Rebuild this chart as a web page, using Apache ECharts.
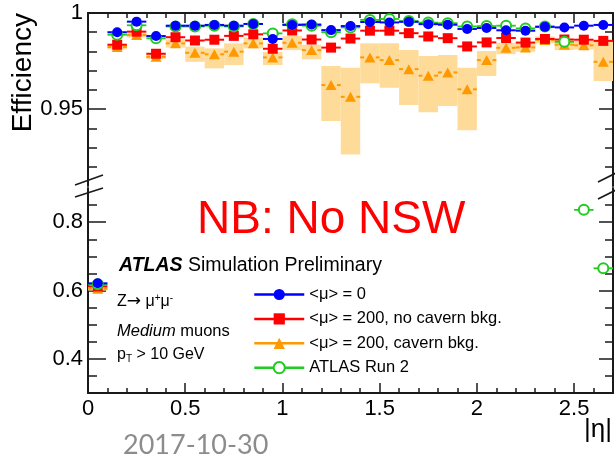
<!DOCTYPE html>
<html>
<head>
<meta charset="utf-8">
<script src="https://cdn.jsdelivr.net/npm/echarts@6/dist/echarts.min.js"></script>
<style>
  html, body { margin: 0; padding: 0; background: #fff; }
  #chart { width: 615px; height: 459px; }
</style>
</head>
<body>
<div id="chart"></div>
<script>
// |eta| bin centres (bin width 0.1)
const etaBins = [0.05, 0.15, 0.25, 0.35, 0.45, 0.55, 0.65, 0.75, 0.85, 0.95,
                 1.05, 1.15, 1.25, 1.35, 1.45, 1.55, 1.65, 1.75, 1.85, 1.95,
                 2.05, 2.15, 2.25, 2.35, 2.45, 2.55, 2.65];
const binHalfWidth = 0.05;

// <mu> = 0
const effMu0 = [0.621, 0.990, 0.9955, 0.988, 0.9934, 0.9934, 0.9938, 0.9934, 0.9943, 0.9865,
                0.9938, 0.9940, 0.9911, 0.9932, 0.9953, 0.9951, 0.9954, 0.9942, 0.9939, 0.9917,
                0.9922, 0.9910, 0.9908, 0.9928, 0.9925, 0.9934, 0.9938];
// <mu> = 200, no cavern background
const effMu200 = [0.612, 0.9835, 0.9903, 0.9788, 0.9874, 0.9857, 0.9861, 0.9881, 0.9889, 0.9814,
                  0.9909, 0.9862, 0.9820, 0.9867, 0.9908, 0.9908, 0.9895, 0.9878, 0.9869, 0.9826,
                  0.9847, 0.9870, 0.9846, 0.9865, 0.9862, 0.9861, 0.9855];
// <mu> = 200, cavern background (central value and systematic band)
const effMu200Cavern = [0.605, 0.9823, 0.9885, 0.9772, 0.9842, 0.9793, 0.9785, 0.9799, 0.9842, 0.9769,
                        0.9845, 0.9807, 0.9625, 0.9564, 0.9769, 0.9755, 0.9708, 0.9674, 0.9691, 0.9603,
                        0.9755, 0.9819, 0.9821, 0.9860, 0.9835, 0.9832, 0.9746];
const cavernBandLow = [0.600, 0.9810, 0.9872, 0.9760, 0.9820, 0.9746, 0.9712, 0.9729, 0.9816, 0.9729,
                       0.9807, 0.9759, 0.9438, 0.9264, 0.9634, 0.9611, 0.9521, 0.9484, 0.9516, 0.9390,
                       0.9672, 0.9786, 0.9798, 0.9842, 0.9807, 0.9810, 0.9646];
const cavernBandHigh = [0.611, 0.9838, 0.9898, 0.9785, 0.9863, 0.9825, 0.9816, 0.9842, 0.9873, 0.9798,
                        0.9880, 0.9835, 0.9724, 0.9715, 0.9842, 0.9842, 0.9807, 0.9776, 0.9781, 0.9715,
                        0.9802, 0.9845, 0.9839, 0.9878, 0.9863, 0.9855, 0.9854];
// ATLAS Run 2
const effRun2 = [0.618, 0.9887, 0.9936, 0.9868, 0.9930, 0.9930, 0.9934, 0.9930, 0.9943, 0.9894,
                 0.9941, 0.9934, 0.9900, 0.9925, 0.9964, 0.9969, 0.9958, 0.9950, 0.9947, 0.9930,
                 0.9932, 0.9934, 0.9920, 0.9930, 0.9850, 0.836, 0.665];

const seriesNames = ['<\u03bc> = 0', '<\u03bc> = 200, no cavern bkg.', '<\u03bc> = 200, cavern bkg.', 'ATLAS Run 2'];

// axis ticks and labels
const xTickLabels = [0, 0.5, 1, 1.5, 2, 2.5];
const xMinorTicks = [0.1, 0.2, 0.3, 0.4, 0.6, 0.7, 0.8, 0.9, 1.1, 1.2, 1.3, 1.4, 1.6, 1.7, 1.8, 1.9,
                     2.1, 2.2, 2.3, 2.4, 2.6];
const upperYLabels = [0.95, 1];
const upperYMinorTicks = [0.92, 0.93, 0.94, 0.96, 0.97, 0.98, 0.99];
const lowerYLabels = [0.4, 0.6, 0.8];
const lowerYMinorTicks = [0.35, 0.45, 0.5, 0.55, 0.65, 0.7, 0.75, 0.85];

const X_RANGE = [0, 2.7];
const UPPER_RANGE = [0.91, 1.0];
const LOWER_RANGE = [0.3, 0.9];

const FONT = "'Liberation Sans', Arial, sans-serif";
const AXIS_COLOR = '#1a1a1a';
const C_BLUE = '#0000ff', C_RED = '#ff0000', C_ORANGE = '#ff9900', C_GREEN = '#1fcc1f', C_BAND = '#ffdb99';

function axis(o) {
  return Object.assign({
    type: 'value',
    splitLine: { show: false },
    axisLabel: { show: false },
    axisTick: { show: false },
    axisLine: { show: false, onZero: false },
    axisPointer: { show: false }
  }, o);
}
const frameLine = { show: true, onZero: false, lineStyle: { color: AXIS_COLOR, width: 2 } };
function ticks(values, length) {
  return { show: true, inside: true, length, customValues: values, lineStyle: { color: AXIS_COLOR, width: 1.5 } };
}
function labels(values) {
  return { show: true, customValues: values, color: '#000', fontSize: 22, fontFamily: FONT, margin: 5 };
}

const xAxes = [
  // upper panel
  axis({ gridIndex: 0, min: X_RANGE[0], max: X_RANGE[1], position: 'bottom' }),
  axis({ gridIndex: 0, min: X_RANGE[0], max: X_RANGE[1], position: 'top', axisLine: frameLine, axisTick: ticks(xMinorTicks, 5) }),
  axis({ gridIndex: 0, min: X_RANGE[0], max: X_RANGE[1], position: 'top', axisTick: ticks(xTickLabels, 10) }),
  // lower panel
  axis({ gridIndex: 1, min: X_RANGE[0], max: X_RANGE[1], position: 'bottom', axisLine: frameLine,
         axisTick: ticks(xMinorTicks, 5), axisLabel: labels(xTickLabels) }),
  axis({ gridIndex: 1, min: X_RANGE[0], max: X_RANGE[1], position: 'bottom', axisTick: ticks(xTickLabels, 10) })
];
const yAxes = [
  // upper panel
  axis({ gridIndex: 0, min: UPPER_RANGE[0], max: UPPER_RANGE[1], position: 'left', axisLine: frameLine,
         axisTick: ticks(upperYMinorTicks, 9), axisLabel: labels(upperYLabels) }),
  axis({ gridIndex: 0, min: UPPER_RANGE[0], max: UPPER_RANGE[1], position: 'left', axisTick: ticks(upperYLabels, 18) }),
  axis({ gridIndex: 0, min: UPPER_RANGE[0], max: UPPER_RANGE[1], position: 'right', axisLine: frameLine, axisTick: ticks(upperYMinorTicks, 8) }),
  axis({ gridIndex: 0, min: UPPER_RANGE[0], max: UPPER_RANGE[1], position: 'right', axisTick: ticks(upperYLabels, 14) }),
  // lower panel
  axis({ gridIndex: 1, min: LOWER_RANGE[0], max: LOWER_RANGE[1], position: 'left', axisLine: frameLine,
         axisTick: ticks(lowerYMinorTicks, 9), axisLabel: labels(lowerYLabels) }),
  axis({ gridIndex: 1, min: LOWER_RANGE[0], max: LOWER_RANGE[1], position: 'left', axisTick: ticks(lowerYLabels, 18) }),
  axis({ gridIndex: 1, min: LOWER_RANGE[0], max: LOWER_RANGE[1], position: 'right', axisLine: frameLine, axisTick: ticks(lowerYMinorTicks, 8) }),
  axis({ gridIndex: 1, min: LOWER_RANGE[0], max: LOWER_RANGE[1], position: 'right', axisTick: ticks(lowerYLabels, 14) })
];

// data axes of each panel
const PANEL_AXES = [{ x: 0, y: 0 }, { x: 3, y: 4 }];

function bandSeries(panel) {
  return {
    type: 'custom', xAxisIndex: PANEL_AXES[panel].x, yAxisIndex: PANEL_AXES[panel].y,
    clip: true, silent: true, z: 1,
    data: etaBins.map((x, i) => [x, cavernBandLow[i], cavernBandHigh[i]]),
    encode: { x: 0, y: [1, 2] },
    renderItem(params, api) {
      const x = api.value(0);
      const tl = api.coord([x - binHalfWidth, api.value(2)]);
      const br = api.coord([x + binHalfWidth, api.value(1)]);
      return { type: 'rect', shape: { x: tl[0], y: tl[1], width: br[0] - tl[0], height: br[1] - tl[1] },
               style: { fill: C_BAND } };
    }
  };
}

// horizontal (bin width) error bars; optional gap around the marker
function xErrorSeries(panel, values, color, width, gap, z) {
  return {
    type: 'custom', xAxisIndex: PANEL_AXES[panel].x, yAxisIndex: PANEL_AXES[panel].y,
    clip: true, silent: true, z,
    data: etaBins.map((x, i) => [x, values[i]]),
    encode: { x: 0, y: 1 },
    renderItem(params, api) {
      const x = api.value(0), y = api.value(1);
      const a = api.coord([x - binHalfWidth, y]);
      const b = api.coord([x + binHalfWidth, y]);
      const style = { stroke: color, lineWidth: width };
      if (!gap) return { type: 'line', shape: { x1: a[0], y1: a[1], x2: b[0], y2: b[1] }, style };
      const c = api.coord([x - gap, y]);
      const d = api.coord([x + gap, y]);
      return { type: 'group', children: [
        { type: 'line', shape: { x1: a[0], y1: a[1], x2: c[0], y2: c[1] }, style },
        { type: 'line', shape: { x1: d[0], y1: d[1], x2: b[0], y2: b[1] }, style }
      ] };
    }
  };
}

function markerSeries(panel, name, values, symbol, size, color, z, border) {
  return {
    type: 'line', name, xAxisIndex: PANEL_AXES[panel].x, yAxisIndex: PANEL_AXES[panel].y,
    data: etaBins.map((x, i) => [x, values[i]]),
    symbol, symbolSize: size, showSymbol: true, showAllSymbol: true,
    lineStyle: { opacity: 0, width: 0, color },
    itemStyle: Object.assign({ color }, border || {}),
    clip: true, silent: true, z
  };
}

const series = [];
for (const panel of [0, 1]) {
  series.push(bandSeries(panel));
  series.push(xErrorSeries(panel, effMu200Cavern, C_ORANGE, 2, 0.03, 2));
  series.push(xErrorSeries(panel, effMu200, C_RED, 2, 0, 3));
  series.push(xErrorSeries(panel, effRun2, C_GREEN, 1.8, 0, 4));
  series.push(xErrorSeries(panel, effMu0, C_BLUE, 2, 0, 5));
  series.push(markerSeries(panel, seriesNames[2], effMu200Cavern, 'triangle', [11, 10], C_ORANGE, 6));
  series.push(markerSeries(panel, seriesNames[1], effMu200, 'rect', 10, C_RED, 7));
  series.push(markerSeries(panel, seriesNames[3], effRun2, 'emptyCircle', 10, C_GREEN, 8, { borderWidth: 1.6 }));
  series.push(markerSeries(panel, seriesNames[0], effMu0, 'circle', 10, C_BLUE, 9));
}

const legendColors = [C_BLUE, C_RED, C_ORANGE, C_GREEN];
const legend = {
  orient: 'vertical', left: 248, top: 281,
  itemWidth: 50, itemHeight: 14, itemGap: 7.4,
  selectedMode: false,
  textStyle: { fontFamily: FONT, fontSize: 16.5, color: '#000', lineHeight: 16, padding: [0, 0, 0, 0] },
  data: seriesNames.map((n, i) => ({ name: n, lineStyle: { opacity: 1, width: 2.5, color: legendColors[i] } }))
};

function txt(x, y, text, extra) {
  return { type: 'text', x, y, silent: true, z: 20,
           style: Object.assign({ text, fontFamily: FONT, fill: '#000', verticalAlign: 'middle' }, extra || {}) };
}
function slash(x1, y1, x2, y2) {
  return { type: 'line', silent: true, z: 20, shape: { x1, y1, x2, y2 }, style: { stroke: AXIS_COLOR, lineWidth: 1.6 } };
}

const graphic = [
  // y-axis title
  { type: 'text', x: 23, y: 13, rotation: Math.PI / 2, silent: true,
    style: { text: 'Efficiency', fontFamily: FONT, fontSize: 28, fill: '#000', align: 'right', verticalAlign: 'middle' } },
  // x-axis title
  txt(612, 430, '|\u03b7|', { fontSize: 26, align: 'right' }),
  // axis break markers
  slash(75, 185, 103, 175), slash(75, 197, 103, 188),
  slash(598, 182, 616, 173), slash(598, 199, 616, 190),
  // annotations
  txt(197, 220, 'NB: No NSW', { fontSize: 46, fill: '#ff0000' }),
  txt(119, 266, '{b|ATLAS} Simulation Preliminary', { fontSize: 19.5,
      rich: { b: { fontFamily: FONT, fontSize: 19.5, fontWeight: 'bold', fontStyle: 'italic' } } }),
  txt(117, 302, '{n|Z}{a|\u2192}{n| \u03bc}{s|+}{n|\u03bc}{s|-}', { fontSize: 16,
      rich: { n: { fontFamily: FONT, fontSize: 16, lineHeight: 18 },
              a: { fontFamily: "'DejaVu Sans', sans-serif", fontSize: 17, lineHeight: 18 },
              s: { fontFamily: FONT, fontSize: 10, lineHeight: 10, verticalAlign: 'top' } } }),
  txt(117, 331, '{i|Medium} muons', { fontSize: 16.5,
      rich: { i: { fontFamily: FONT, fontSize: 16.5, fontStyle: 'italic' } } }),
  txt(117, 355, '{n|p}{s|T}{n| > 10 GeV}', { fontSize: 16,
      rich: { n: { fontFamily: FONT, fontSize: 16, lineHeight: 18 },
              s: { fontFamily: FONT, fontSize: 10, lineHeight: 10, verticalAlign: 'bottom' } } }),
  txt(123, 445, '2017-10-30', { fontSize: 27, fill: '#8c8c8c', fontFamily: "Lato, 'Open Sans', sans-serif" })
];

const chart = echarts.init(document.getElementById('chart'), null, { renderer: 'canvas' });
chart.setOption({
  animation: false,
  backgroundColor: '#fff',
  grid: [
    { left: 88, right: 2, top: 13, height: 173 },
    { left: 88, right: 2, top: 188, height: 205 }
  ],
  xAxis: xAxes,
  yAxis: yAxes,
  legend,
  series,
  graphic
});
</script>
</body>
</html>
